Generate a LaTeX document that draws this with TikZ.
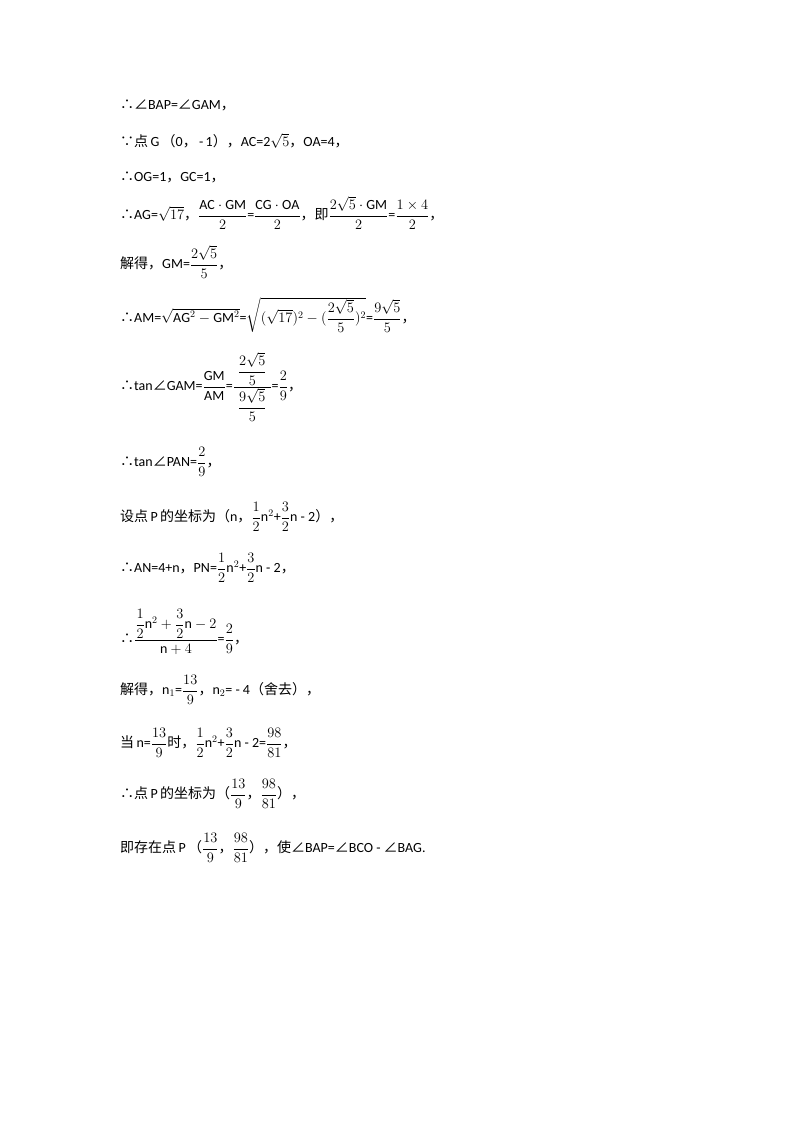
\documentclass[tikz,border=0pt]{standalone}
\usepackage{amsmath}
\usepackage{fontspec}
\setmainfont{Carlito}
\newfontfamily\cjk{Noto Sans CJK SC}
\newcommand{\cj}[1]{{\cjk #1}}
\newcommand{\fr}[2]{\genfrac{}{}{0.5pt}{0}{#1}{#2}}
\newcommand{\fs}[2]{\genfrac{}{}{0.4pt}{1}{#1}{#2}}
\begin{document}
\begin{tikzpicture}[x=1pt,y=-1pt,line/.style={anchor=west,inner sep=0pt,font=\fontsize{14}{16}\selectfont}]
\useasboundingbox (0,0) rectangle (800,1132);
\node[line] (l1) at (120,105) {\cj{∴∠}BAP=\cj{∠}GAM\cj{，}};
\node[line] (l2) at (120,141) {\cj{∵点}\,G\,\cj{（}0\cj{，}\,-\,1\cj{），}AC=2$\sqrt{5}$\cj{，}OA=4\cj{，}};
\node[line] (l3) at (120,177) {\cj{∴}OG=1\cj{，}GC=1\cj{，}};
\node[line] (l4) at (120,213) {\cj{∴}AG=$\sqrt{17}$\cj{，}$\fr{\mathrm{AC}\cdot\mathrm{GM}}{2}$=$\fr{\mathrm{CG}\cdot\mathrm{OA}}{2}$\cj{，即}$\fr{2\sqrt{5}\cdot\mathrm{GM}}{2}$=$\fr{1\times4}{2}$\cj{，}};
\node[line] (l5) at (120,262) {\cj{解得，}GM=$\fr{2\sqrt{5}}{5}$\cj{，}};
\node[line] (l6) at (120,315) {\cj{∴}AM=$\sqrt{\mathrm{AG}^2-\mathrm{GM}^2}$=$\sqrt{(\sqrt{17})^2-(\fr{2\sqrt{5}}{5})^2}$=$\fr{9\sqrt{5}}{5}$\cj{，}};
\node[line] (l7) at (120,387) {\cj{∴}tan\cj{∠}GAM=$\fr{\mathrm{GM}}{\mathrm{AM}}$=$\fr{\;\fr{2\sqrt{5}}{5}\;}{\fr{9\sqrt{5}}{5}}$=$\fr{2}{9}$\cj{，}};
\node[line] (l8) at (120,462) {\cj{∴}tan\cj{∠}PAN=$\fr{2}{9}$\cj{，}};
\node[line] (l9) at (120,517) {\cj{设点}\,P\,\cj{的坐标为（}n\cj{，}$\fr{1}{2}$n$^2$+$\fr{3}{2}$n - 2\cj{），}};
\node[line] (l10) at (120,568) {\cj{∴}AN=4+n\cj{，}PN=$\fr{1}{2}$n$^2$+$\fr{3}{2}$n - 2\cj{，}};
\node[line] (l11) at (120,632) {\cj{∴}$\fr{\fr{1}{2}\mathrm{n}^2+\fr{3}{2}\mathrm{n}-2}{\mathrm{n}+4}$=$\fr{2}{9}$\cj{，}};
\node[line] (l12) at (120,690) {\cj{解得，}n$_1$=$\fr{13}{9}$\cj{，}n$_2$= - 4\cj{（舍去），}};
\node[line] (l13) at (120,743) {\cj{当}\,n=$\fr{13}{9}$\cj{时，}$\fr{1}{2}$n$^2$+$\fr{3}{2}$n - 2=$\fr{98}{81}$\cj{，}};
\node[line] (l14) at (120,794) {\cj{∴点}\,P\,\cj{的坐标为（}$\fr{13}{9}$\cj{，}$\fr{98}{81}$\cj{），}};
\node[line] (l15) at (120,848) {\cj{即存在点}\,P\,\cj{（}$\fr{13}{9}$\cj{，}$\fr{98}{81}$\cj{），使∠}BAP=\cj{∠}BCO - \cj{∠}BAG.};
\end{tikzpicture}
\end{document}
